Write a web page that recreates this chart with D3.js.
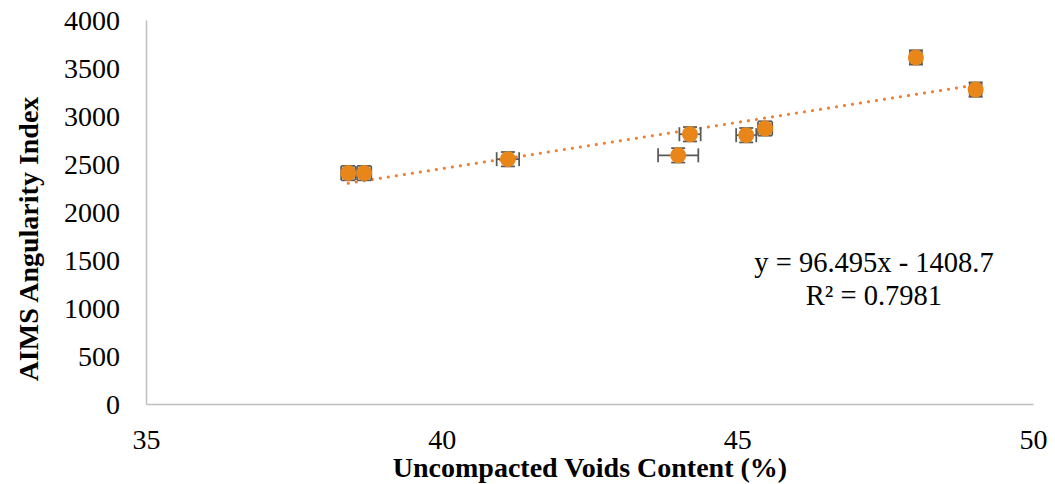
<!DOCTYPE html>
<html><head><meta charset="utf-8">
<script src="https://cdn.jsdelivr.net/npm/d3@7"></script>
<style>body{margin:0;background:#fff}svg{display:block}
svg text{font-family:'Liberation Serif','Times New Roman',serif}</style>
</head><body>
<svg id="c" width="1055" height="484"></svg>
<script>
const xValues = [38.42, 38.69, 41.12, 44.0, 44.2, 45.15, 45.47, 48.02, 49.03];
const yValues = [2405, 2405, 2550, 2590, 2810, 2800, 2870, 3610, 3275];
const xErrors = [0.12, 0.12, 0.19, 0.34, 0.18, 0.17, 0.12, 0.1, 0.1];
const yErrors = [75, 75, 75, 75, 75, 75, 75, 75, 75];
const xTicks = [35, 40, 45, 50];
const yTicks = [0, 500, 1000, 1500, 2000, 2500, 3000, 3500, 4000];
const slope = 96.495, intercept = -1408.7;
const eqLines = ["y = 96.495x - 1408.7", "R² = 0.7981"];

const svg = d3.select("#c");
const fs = 28;
const x = d3.scaleLinear().domain([35, 50]).range([146, 1033]);
const y = d3.scaleLinear().domain([0, 4000]).range([404, 20]);

// axes
const axC = "#bfbfbf";
const yAxis = svg.append("g").attr("transform", "translate(146,0)")
  .call(d3.axisLeft(y).tickValues(yTicks).tickFormat(d3.format("d")).tickSize(0).tickPadding(26));
const xAxis = svg.append("g").attr("transform", "translate(0,404)")
  .call(d3.axisBottom(x).tickValues(xTicks).tickFormat(d3.format("d")).tickSize(0));
[yAxis, xAxis].forEach(g => {
  g.attr("font-family", null).attr("font-size", null);
  g.select(".domain").attr("stroke", axC).attr("stroke-width", 1.5);
  g.selectAll("text").style("font-size", fs + "px").attr("fill", "#000");
});
yAxis.selectAll("text").attr("dy", "0.35em");
xAxis.selectAll("text").attr("y", 35).attr("dy", "0.35em");

// trendline
const xmin = d3.min(xValues), xmax = d3.max(xValues);
svg.append("line")
  .attr("x1", x(xmin)).attr("y1", y(slope * xmin + intercept))
  .attr("x2", x(xmax)).attr("y2", y(slope * xmax + intercept))
  .attr("stroke", "#ED7D31").attr("stroke-width", 3)
  .attr("stroke-linecap", "round").attr("stroke-dasharray", "0.1 8");

// error bars
const eb = svg.append("g").attr("stroke", "#595959").attr("stroke-width", 1.75).attr("fill", "none");
const cap = 7;
xValues.forEach((xv, i) => {
  const yv = yValues[i];
  const cx = x(xv), cy = y(yv);
  const xl = x(xv - xErrors[i]), xr = x(xv + xErrors[i]);
  const yt = y(yv + yErrors[i]), yb = y(yv - yErrors[i]);
  eb.append("line").attr("x1", xl).attr("x2", xr).attr("y1", cy).attr("y2", cy);
  eb.append("line").attr("x1", xl).attr("x2", xl).attr("y1", cy - cap).attr("y2", cy + cap);
  eb.append("line").attr("x1", xr).attr("x2", xr).attr("y1", cy - cap).attr("y2", cy + cap);
  eb.append("line").attr("x1", cx).attr("x2", cx).attr("y1", yt).attr("y2", yb);
  eb.append("line").attr("x1", cx - cap).attr("x2", cx + cap).attr("y1", yt).attr("y2", yt);
  eb.append("line").attr("x1", cx - cap).attr("x2", cx + cap).attr("y1", yb).attr("y2", yb);
});

// markers
svg.append("g").selectAll("circle").data(xValues).join("circle")
  .attr("cx", d => x(d)).attr("cy", (d, i) => y(yValues[i])).attr("r", 8)
  .attr("fill", "#E8861A");

// equation
svg.append("g").selectAll("text").data(eqLines).join("text")
  .attr("x", 874).attr("y", (d, i) => 272 + i * 33)
  .attr("text-anchor", "middle").style("font-size", "28.5px")
  .text(d => d);

// titles
svg.append("text").attr("x", 590).attr("y", 477).attr("text-anchor", "middle")
  .style("font-size", fs + "px").attr("font-weight", "bold")
  .text("Uncompacted Voids Content (%)");
svg.append("text").attr("transform", "translate(38,239) rotate(-90)").attr("text-anchor", "middle")
  .style("font-size", fs + "px").attr("font-weight", "bold")
  .text("AIMS Angularity Index");
</script>
</body></html>
